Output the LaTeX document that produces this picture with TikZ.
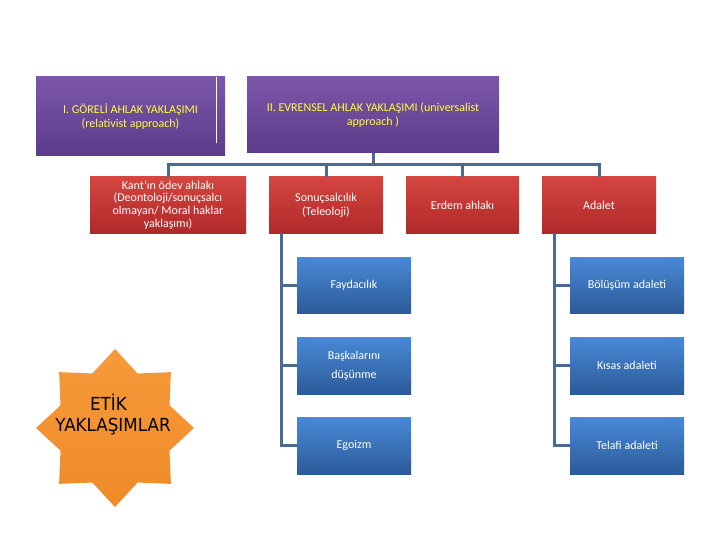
\documentclass[tikz,border=0pt]{standalone}
\usepackage{fontspec}
\setmainfont{Carlito}
\newfontfamily\starfont[FakeStretch=0.93]{DejaVu Sans}
\usetikzlibrary{calc}
\definecolor{purpT}{HTML}{7C56AA}
\definecolor{purpB}{HTML}{5C3B8A}
\definecolor{redT}{HTML}{D4463F}
\definecolor{redB}{HTML}{B0292A}
\definecolor{bluT}{HTML}{4A89D6}
\definecolor{bluB}{HTML}{2B5B9A}
\definecolor{connC}{HTML}{4B6A93}
\definecolor{yel}{HTML}{FFFF3C}
\definecolor{orT}{HTML}{F79A3A}
\definecolor{orB}{HTML}{EF8A28}
\tikzset{
  basebox/.style={rectangle, inner sep=2pt, align=center, font=\fontsize{12}{12.8}\selectfont},
  purpbox/.style={basebox, top color=purpT, bottom color=purpB, text=yel, font=\fontsize{12}{14.5}\selectfont},
  redbox/.style={basebox, top color=redT, bottom color=redB, text=white, minimum width=114pt, minimum height=56pt},
  bluebox/.style={basebox, top color=bluT, bottom color=bluB, text=white, minimum width=114pt, minimum height=57pt},
  conn/.style={draw=connC, line width=3pt},
}
\begin{document}
\begin{tikzpicture}[x=1pt,y=-1pt]
\useasboundingbox (0,0) rectangle (720,540);
\fill[white] (0,0) rectangle (720,540);
% top boxes
\node[purpbox, minimum width=189pt, minimum height=79pt] (p1) at (130.5,116.5) {I. GÖRELİ AHLAK YAKLAŞIMI\\(relativist approach)};
\draw[white, line width=1pt] ($(p1.north east)+(-8.5,0)$) -- ($(p1.north east)+(-8.5,66)$);
\node[purpbox, minimum width=252pt, minimum height=76pt, font=\fontsize{12}{13.5}\selectfont] (p2) at (373,115) {II. EVRENSEL AHLAK YAKLAŞIMI (universalist\\approach )};
% second level
\node[redbox, minimum width=156pt] (kant) at (168,205) {Kant’ın ödev ahlakı\\(Deontoloji/sonuçsalcı\\olmayan/ Moral haklar\\yaklaşımı)};
\node[redbox, font=\fontsize{12}{14}\selectfont] (sonuc) at (326,205) {Sonuçsalcılık\\(Teleoloji)};
\node[redbox, minimum width=113pt] (erdem) at (462.5,205) {Erdem ahlakı};
\node[redbox] (adalet) at (599,205) {Adalet};
% third level
\node[bluebox, minimum height=56pt] (fay) at (354,285) {Faydacılık};
\node[bluebox, font=\fontsize{12}{19}\selectfont] (bask) at (354,365.5) {Başkalarını\\düşünme};
\node[bluebox] (ego) at (354,445.5) {Egoizm};
\node[bluebox, minimum height=56pt] (bol) at (627,285) {Bölüşüm adaleti};
\node[bluebox] (kisas) at (627,365.5) {Kısas adaleti};
\node[bluebox] (telafi) at (627,445.5) {Telafi adaleti};
% connectors
\draw[conn] (p2.south) -- ++(0,12);
\draw[conn] (kant.north) -- ++(0,-12) -| (adalet.north);
\draw[conn] (sonuc.north) -- ++(0,-12);
\draw[conn] (erdem.north) -- ++(0,-12);
\coordinate (sl) at ($(sonuc.south)+(-45,0)$);
\coordinate (al) at ($(adalet.south)+(-45,0)$);
\draw[conn] (sl) |- (ego.west);
\draw[conn] (sl |- fay.west) -- (fay.west);
\draw[conn] (sl |- bask.west) -- (bask.west);
\draw[conn] (al) |- (telafi.west);
\draw[conn] (al |- bol.west) -- (bol.west);
\draw[conn] (al |- kisas.west) -- (kisas.west);
% star
\coordinate (sc) at (115,428);
\shade[top color=orT, bottom color=orB]
  ($(sc)+(90:79)$)
  \foreach \i in {0,...,7} { -- ($(sc)+({90-45*\i-22.5}:59)$) -- ($(sc)+({90-45*\i-45}:79)$) } -- cycle;
\node[align=center, font=\starfont\fontsize{18}{21}\selectfont, text=black, inner sep=0] (etik) at (113,415) {ETİK\hspace*{9pt}\\YAKLAŞIMLAR};
\end{tikzpicture}
\end{document}
